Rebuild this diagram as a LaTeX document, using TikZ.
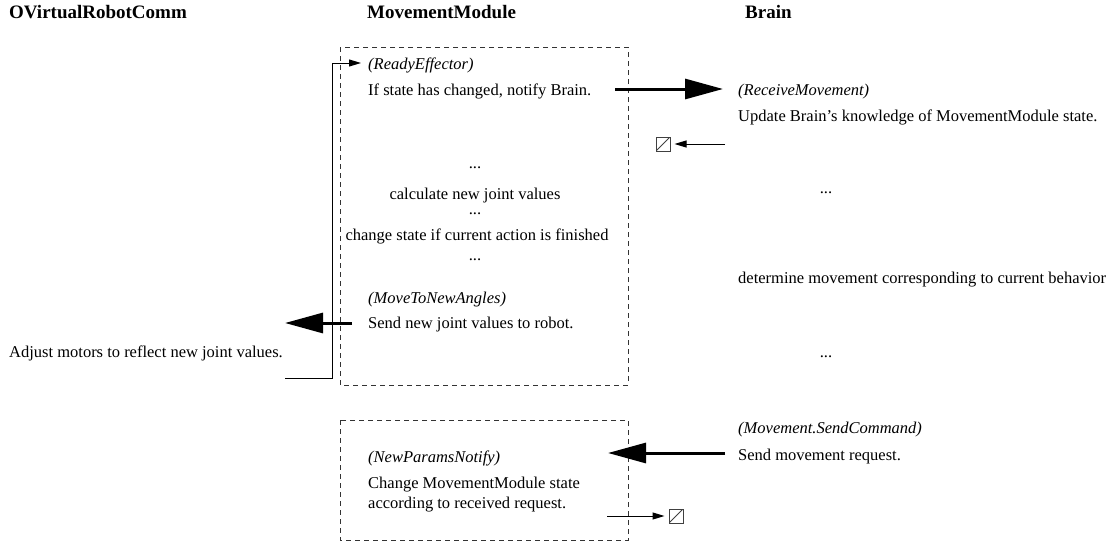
\documentclass[tikz,border=0pt]{standalone}
\usepackage{fontspec}
\setmainfont{Liberation Serif}
\usetikzlibrary{arrows.meta}
\begin{document}
\begin{tikzpicture}[x=1pt,y=-1pt,
  txt/.style={anchor=base west,inner sep=0pt,font=\fontsize{16.5}{20}\selectfont},
  ctxt/.style={anchor=base,inner sep=0pt,font=\fontsize{16.5}{20}\selectfont},
  itxt/.style={txt,font=\fontsize{16.5}{20}\selectfont\itshape},
  ttl/.style={anchor=base west,inner sep=0pt,font=\fontsize{19}{22}\selectfont\bfseries},
  frame/.style={draw=black!80,dashed,dash pattern=on 5pt off 4pt,line width=0.9pt},
  bigarrow/.style={line width=3pt,-{Triangle[length=38pt,width=20pt]}},
  thinarrow/.style={line width=1pt,-{Triangle[length=12pt,width=7pt]}},
  term/.style={draw=black!75,line width=1pt,minimum width=14pt,minimum height=14pt,inner sep=0pt,
    path picture={\draw[black!75,line width=1pt] (path picture bounding box.south west) -- (path picture bounding box.north east);}}
]
\useasboundingbox (0,0) rectangle (1112,546);
% titles
\node[ttl] (t1) at (9,19) {OVirtualRobotComm};
\node[ttl] (t2) at (367,19) {MovementModule};
\node[ttl] (t3) at (745,19) {Brain};
% frames
\draw[frame] (340,47) rectangle (628,385);
\draw[frame] (340,420) rectangle (628,540);
% MovementModule box 1
\node[itxt] (re) at (368,69) {(ReadyEffector)};
\node[txt] (ifs) at (368,95) {If state has changed, notify Brain.};
\node[ctxt] (d1) at (475,168) {...};
\node[ctxt] (calc) at (475,199) {calculate new joint values};
\node[ctxt] (d2) at (475,214) {...};
\node[ctxt] (chg) at (477,240) {change state if current action is finished};
\node[ctxt] (d3) at (475,260) {...};
\node[itxt] (mtna) at (368,303) {(MoveToNewAngles)};
\node[txt] (snd) at (368,328) {Send new joint values to robot.};
% OVirtualRobotComm
\node[txt] (adj) at (9,357) {Adjust motors to reflect new joint values.};
% Brain
\node[itxt] (rm) at (738,95) {(ReceiveMovement)};
\node[txt] (upd) at (738,121) {Update Brain's knowledge of MovementModule state.};
\node[ctxt] (bd1) at (826,193) {...};
\node[txt] (det) at (738,283) {determine movement corresponding to current behavior};
\node[ctxt] (bd2) at (826,357) {...};
\node[itxt] (msc) at (738,433) {(Movement.SendCommand)};
\node[txt] (smr) at (738,460) {Send movement request.};
% MovementModule box 2
\node[itxt] (npn) at (368,462) {(NewParamsNotify)};
\node[txt] (cms) at (368,488) {Change MovementModule state};
\node[txt] (acc) at (368,508) {according to received request.};
% terminators
\node[term] (x1) at (663,144) {};
\node[term] (x2) at (676,516) {};
% connector coordinates
\coordinate (a1s) at (615,89);
\coordinate (a1e) at (723,89);
\coordinate (a2s) at (352,323);
\coordinate (a2e) at (285,323);
\coordinate (a3s) at (725,453);
\coordinate (a3e) at (608,453);
\coordinate (l0) at (285,378);
\coordinate (l1) at (332,378);
\coordinate (l2) at (332,63);
\coordinate (l3) at (361,63);
\coordinate (s1) at (725,144);
\coordinate (s2) at (607,516);
% arrows
\draw[bigarrow] (a1s) -- (a1e);
\draw[bigarrow] (a2s) -- (a2e);
\draw[bigarrow] (a3s) -- (a3e);
\draw[thinarrow] (l0) -- (l1) -- (l2) -- (l3);
\draw[thinarrow,shorten >=4pt] (s1) -- (x1);
\draw[thinarrow,shorten >=4pt] (s2) -- (x2);
\end{tikzpicture}
\end{document}
